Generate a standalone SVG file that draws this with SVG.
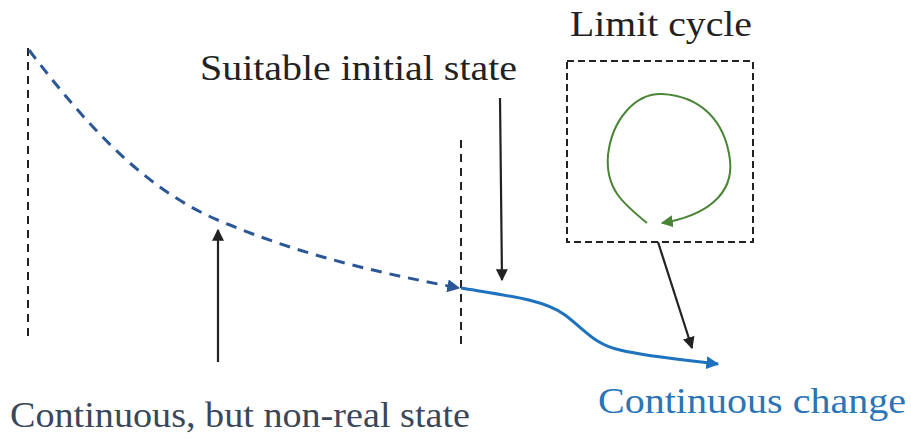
<svg xmlns="http://www.w3.org/2000/svg" width="911" height="439" viewBox="0 0 911 439">
<style>
text{font-size:35px}
.vd{stroke:#222;stroke-width:2;stroke-dasharray:8,6;fill:none}
.ar{stroke:#222;stroke-width:2.2;fill:none}
</style>
<defs>
<marker id="mb" viewBox="0 0 10 10" refX="9" refY="5" markerWidth="12" markerHeight="12" markerUnits="userSpaceOnUse" orient="auto"><path d="M0,0L10,5L0,10z" fill="#222"/></marker>
<marker id="mdb" viewBox="0 0 10 10" refX="9" refY="5" markerWidth="13" markerHeight="13" markerUnits="userSpaceOnUse" orient="auto"><path d="M0,0L10,5L0,10z" fill="#2b5797"/></marker>
<marker id="mlb" viewBox="0 0 10 10" refX="9" refY="5" markerWidth="13" markerHeight="13" markerUnits="userSpaceOnUse" orient="auto"><path d="M0,0L10,5L0,10z" fill="#1f72bd"/></marker>
<marker id="mg" viewBox="0 0 10 10" refX="9" refY="5" markerWidth="12" markerHeight="12" markerUnits="userSpaceOnUse" orient="auto"><path d="M0,0L10,5L0,10z" fill="#4a8536"/></marker>
</defs>
<g id="labels" font-family="'Liberation Serif', 'Times New Roman', serif">
<text x="200" y="80" fill="#222" textLength="317" lengthAdjust="spacingAndGlyphs">Suitable initial state</text>
<text x="570" y="36" fill="#222" textLength="182" lengthAdjust="spacingAndGlyphs">Limit cycle</text>
<text x="10" y="427" fill="#3a475b" textLength="460" lengthAdjust="spacingAndGlyphs">Continuous, but non-real state</text>
<text x="598" y="413" fill="#2a74b8" textLength="308" lengthAdjust="spacingAndGlyphs">Continuous change</text>
</g>
<g id="guides">
<line class="vd" x1="28" y1="48" x2="28" y2="338"/>
<line class="vd" x1="461" y1="140" x2="461" y2="346"/>
</g>
<g id="limit-cycle">
<rect x="567" y="61" width="186" height="181" fill="none" stroke="#222" stroke-width="2" stroke-dasharray="7,4"/>
<path d="M647,223 C625,205 605,190 608,155 C612,120 635,93 662,94 C700,96 725,120 730,160 C734,195 705,216 662,223" fill="none" stroke="#4a8536" stroke-width="2" marker-end="url(#mg)"/>
</g>
<g id="connectors">
<path d="M29,50 C90,130 150,195 230,225 C310,258 390,275 459,288" fill="none" stroke="#2b5797" stroke-width="3" stroke-dasharray="11,8" marker-end="url(#mdb)"/>
<path d="M461,288 C510,296 545,300 565,315 C585,330 595,345 620,350 C650,357 685,360 718,364" fill="none" stroke="#1f72bd" stroke-width="3" marker-end="url(#mlb)"/>
<line class="ar" x1="218" y1="362" x2="218" y2="230" marker-end="url(#mb)"/>
<line class="ar" x1="500" y1="98" x2="502" y2="280" marker-end="url(#mb)"/>
<line class="ar" x1="658" y1="242" x2="692" y2="348" marker-end="url(#mb)"/>
</g>
</svg>
